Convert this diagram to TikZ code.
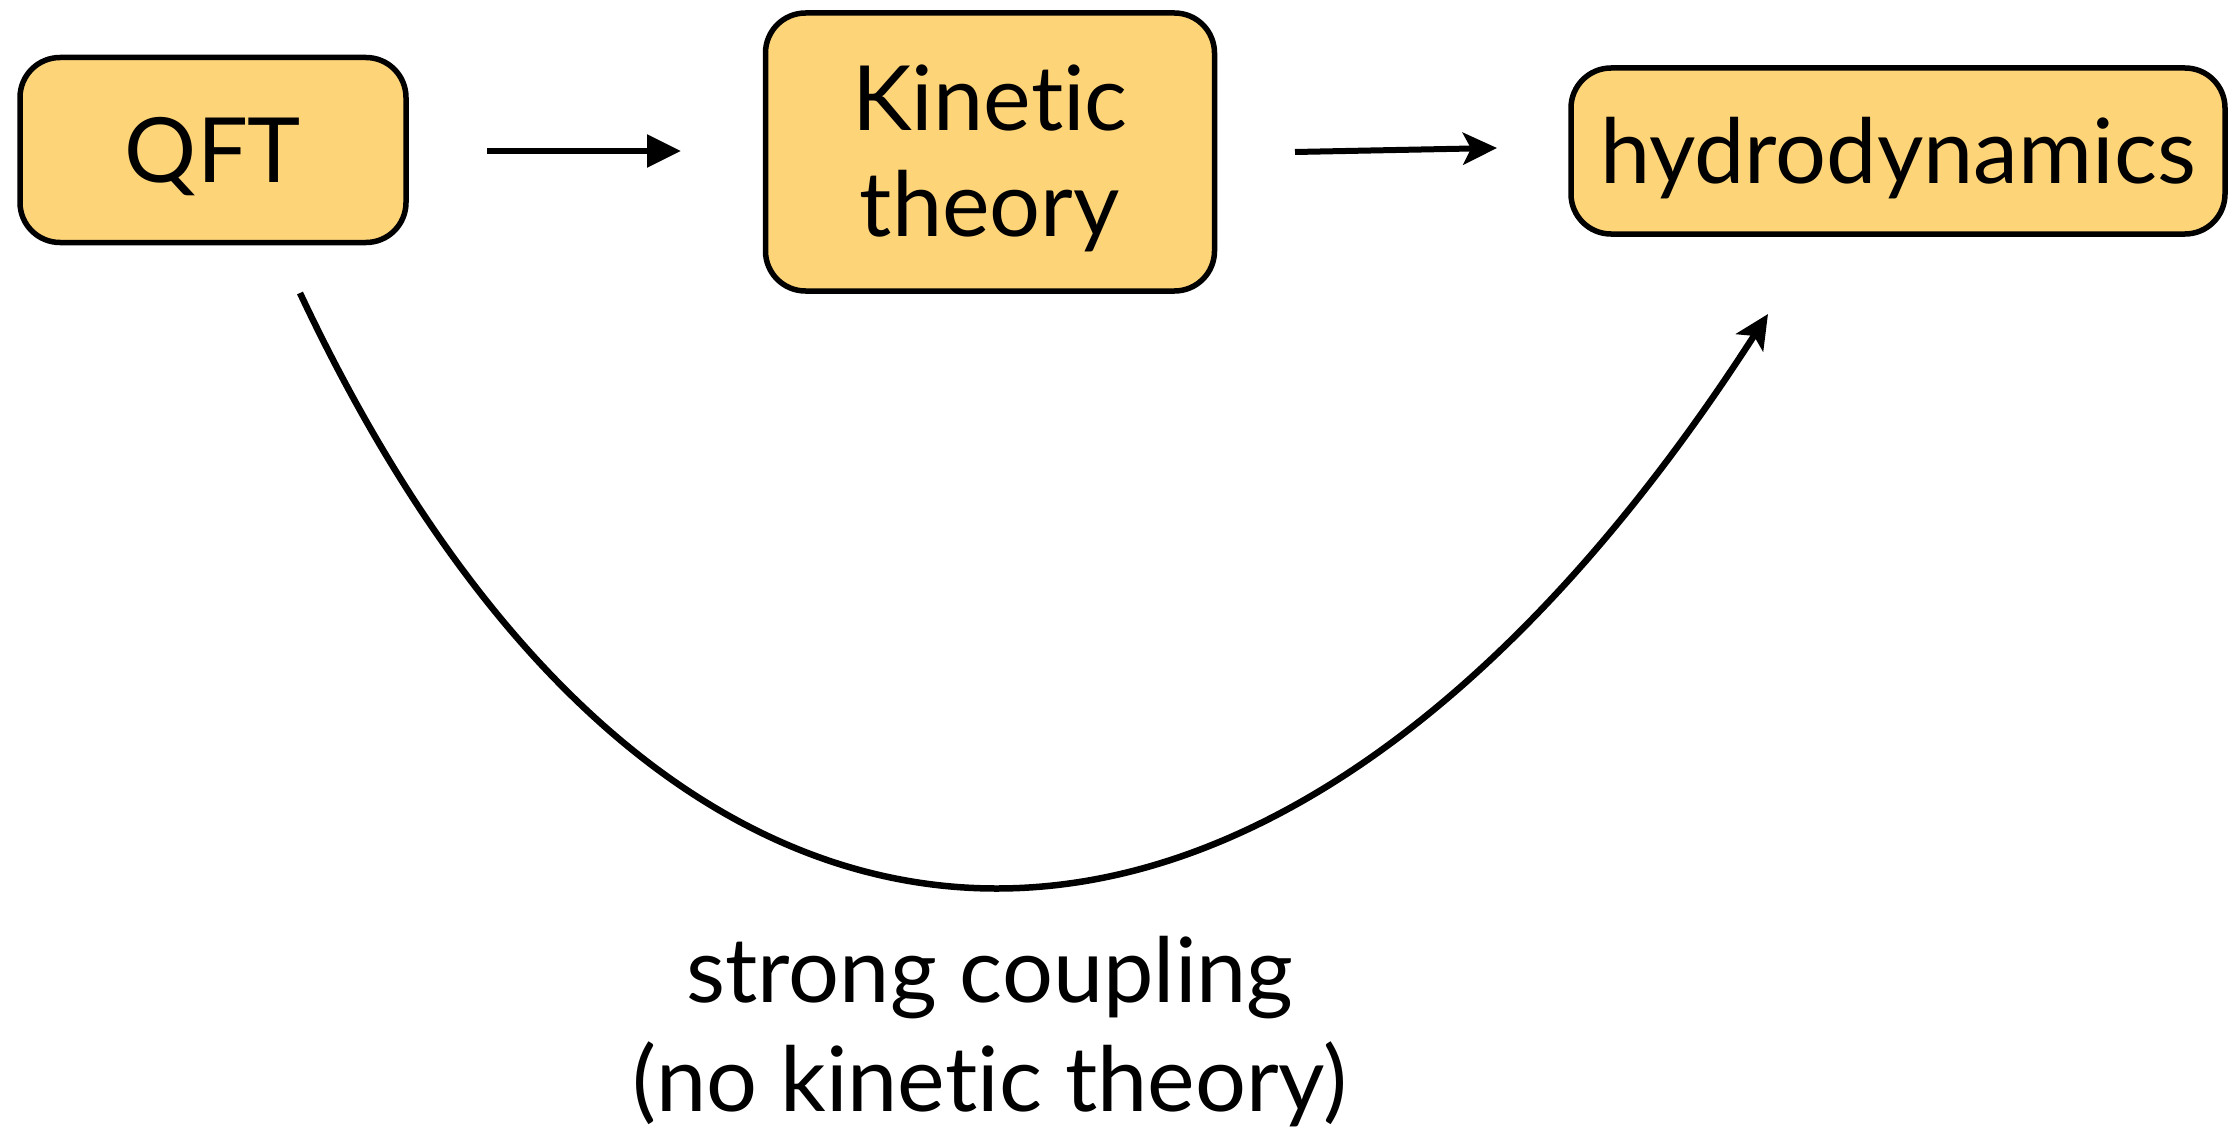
\documentclass[tikz,border=0pt]{standalone}
\usepackage{fontspec}
\setmainfont{Lato}[Ligatures={NoCommon}]
\usetikzlibrary{arrows.meta}
\definecolor{boxfill}{RGB}{254,212,121}
\begin{document}
\begin{tikzpicture}[x=1pt,y=-1pt,
  box/.style={draw=black,line width=5.5pt,fill=boxfill,rounded corners=40pt,inner sep=0pt,
    font=\fontsize{90}{105}\selectfont,text height=65pt,text depth=0pt,align=center},
  conn/.style={line width=6pt},
  txt/.style={font=\fontsize{90}{105}\selectfont,anchor=base,inner sep=0pt}]
\useasboundingbox (0,0) rectangle (2239,1137);
\node[box,minimum width=386pt,minimum height=185pt] (qft) at (213,150) {QFT};
\node[box,minimum width=449pt,minimum height=278pt,text height=,text depth=] (kin) at (990,152) {};
\node[txt] (kin1) at (990,131) {Kinetic};
\node[txt] (kin2) at (990,236) {theory};
\node[box,minimum width=654pt,minimum height=166pt] (hyd) at (1898,151) {hydrodynamics};
\coordinate (a1s) at (487,151);
\coordinate (a1e) at (681,151);
\coordinate (a2s) at (1295,152);
\coordinate (a2e) at (1497,148);
\coordinate (cs) at (300,293);
\coordinate (ce) at (1768,314);
\draw[conn,-{Triangle[length=34pt,width=32pt]}] (a1s) -- (a1e);
\draw[conn,-{Stealth[length=34pt,width=32pt,inset=8pt]}] (a2s) -- (a2e);
\draw[conn,line width=6.5pt,-{Stealth[length=34pt,width=32pt,inset=8pt]}] (cs) .. controls (670,1080) and (1275,1080) .. (ce);
\node[txt] (t1) at (990,1002) {strong coupling};
\node[txt] (t2) at (990,1111) {(no kinetic theory)};
\end{tikzpicture}
\end{document}
